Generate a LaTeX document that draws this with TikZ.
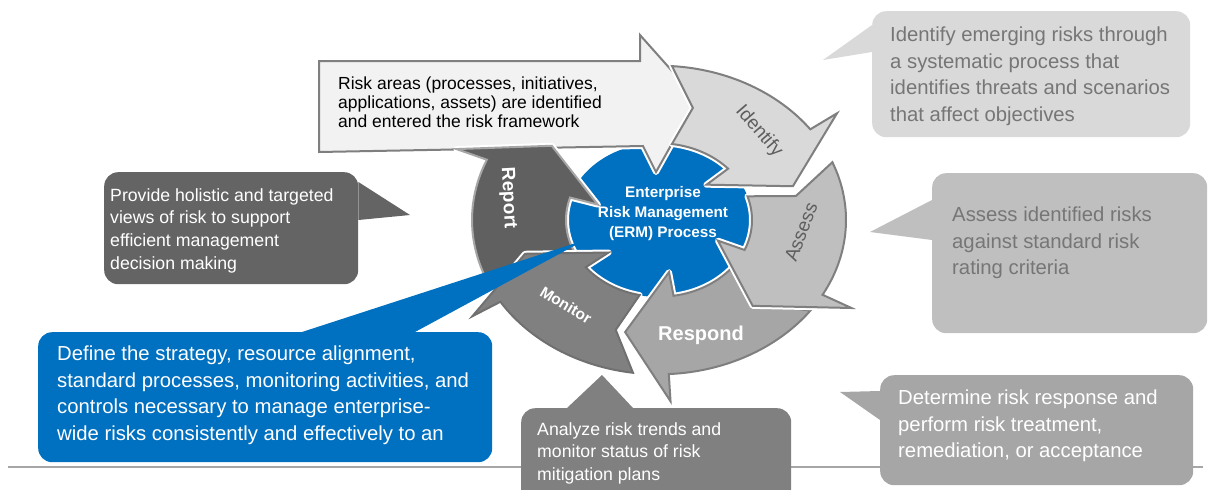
\documentclass[tikz,border=0pt]{standalone}
\usepackage{fontspec}
\setmainfont{Liberation Sans}
\usetikzlibrary{positioning}
\definecolor{ermblue}{HTML}{0070C0}
\definecolor{idgray}{HTML}{D9D9D9}
\definecolor{asgray}{HTML}{BFBFBF}
\definecolor{rsgray}{HTML}{A6A6A6}
\definecolor{mogray}{HTML}{808080}
\definecolor{rpgray}{HTML}{606060}
\definecolor{pvgray}{HTML}{646464}
\definecolor{edgegray}{HTML}{7F7F7F}
\definecolor{txtgray}{HTML}{767676}
\definecolor{entrygray}{HTML}{F2F2F2}
% one curved arrow of the cycle: tail, head base, tip, fill, edge
\newcommand\cyclearrow[5]{%
\pgfmathsetmacro\ta{#1-4}\pgfmathsetmacro\tn{#1-10}\pgfmathsetmacro\hb{#2+6}
\draw[fill=#4,draw=#5,line width=2pt,
  preaction={draw=white,line width=6pt,line join=round}]
  (#1:187) arc[start angle=#1,end angle=#2,radius=187] -- (#2:220) -- (#3:140)
  -- (\hb:64) -- (\hb:93) arc[start angle=\hb,end angle=\ta,radius=93]
  -- (\tn:140) -- cycle;}

\begin{document}
\begin{tikzpicture}[x=1pt,y=-1pt,every node/.style={inner sep=0pt},
  box/.style={anchor=north west,rounded corners=14pt},
  note/.style={align=left,font=\fontsize{20.3}{26.5}\selectfont},
  small note/.style={align=left,font=\fontsize{17.7}{22.7}\selectfont},
  step name/.style={font=\bfseries\fontsize{19}{22}\selectfont}]
\useasboundingbox (0,0) rectangle (1208,490);
\draw[rsgray,line width=1.5pt] (8,467) -- (1203,467);

% the cycle
\fill[ermblue] (659,220) ellipse[x radius=93,y radius=77];
\draw[fill=entrygray,draw=edgegray,line width=2pt,
  preaction={draw=white,line width=6pt,line join=round}]
  (319,61) -- (640,61) -- (640,35) -- (697,99) -- (656,172) -- (643,146)
  -- (319,152) -- cycle;
\node[small note,font=\fontsize{17.5}{19}\selectfont,anchor=north west] (entry) at (338,77)
  {Risk areas (processes, initiatives,\\applications, assets) are identified\\and entered the risk framework};
\begin{scope}[shift={(659,220)},yscale=-0.825]
\cyclearrow{214}{157}{140}{rpgray}{rsgray}
\cyclearrow{-98}{-148}{-163}{mogray}{rpgray!90}
\cyclearrow{-36}{-87}{-104}{rsgray}{edgegray}
\cyclearrow{22}{-29}{-48}{asgray}{edgegray}
\cyclearrow{86}{36}{17}{idgray}{edgegray}
\end{scope}
\node[font=\bfseries\fontsize{15.3}{20}\selectfont,align=center,text=white] (erm) at (663,214)
  {Enterprise\\Risk Management\\(ERM) Process};
\node[font=\fontsize{19}{22}\selectfont,text=txtgray!80!black,rotate=-49] (identify) at (759,131) {Identify};
\node[font=\fontsize{19}{22}\selectfont,text=txtgray!80!black,rotate=69] (assess) at (801,232) {Assess};
\node[step name,text=white,font=\bfseries\fontsize{20}{22}\selectfont] (respond) at (701,335) {Respond};
\node[step name,text=white,font=\bfseries\fontsize{15.5}{18}\selectfont,rotate=-31] (monitor) at (566,305) {Monitor};
\node[step name,text=white,rotate=-87] (report) at (508,198) {Report};

% notes around the cycle
\node[box,fill=ermblue,minimum width=454pt,minimum height=130pt] (dfbox) at (38,332) {};
\coordinate (dftip) at (585,240);
\fill[ermblue] ([xshift=264pt]dfbox.north west) -- (dftip) -- ([xshift=377pt]dfbox.north west) -- cycle;
\node[note,text=white,below right=14pt and 19pt of dfbox.north west] (dftext)
  {Define the strategy, resource alignment,\\standard processes, monitoring activities, and\\controls necessary to manage enterprise-\\wide risks consistently and effectively to an};

\node[box,fill=pvgray,minimum width=254pt,minimum height=112pt] (pvbox) at (104,172) {};
\coordinate (pvtip) at (410,215);
\fill[pvgray] ([yshift=-10pt]pvbox.north east) -- (pvtip) -- ([yshift=-48pt]pvbox.north east) -- cycle;
\node[small note,text=white,below right=16pt and 6pt of pvbox.north west] (pvtext)
  {Provide holistic and targeted\\views of risk to support\\efficient management\\decision making};

\node[box,fill=mogray,minimum width=270pt,minimum height=100pt] (anbox) at (521,408) {};
\coordinate (antip) at (602,375);
\fill[mogray] ([xshift=46pt]anbox.north west) -- (antip) -- ([xshift=112pt]anbox.north west) -- cycle;
\node[small note,text=white,below right=14pt and 16pt of anbox.north west] (antext)
  {Analyze risk trends and\\monitor status of risk\\mitigation plans};

\node[box,fill=idgray,minimum width=318pt,minimum height=126pt] (idbox) at (872,11) {};
\coordinate (idtip) at (823,60);
\fill[idgray] ([yshift=-14pt]idbox.north west) -- (idtip) -- ([yshift=-41pt]idbox.north west) -- cycle;
\node[note,text=txtgray,below right=16pt and 18pt of idbox.north west] (idtext)
  {Identify emerging risks through\\a systematic process that\\identifies threats and scenarios\\that affect objectives};

\node[box,fill=asgray,minimum width=275pt,minimum height=160pt] (asbox) at (932,173) {};
\coordinate (astip) at (870,232);
\fill[asgray] ([yshift=-27pt]asbox.north west) -- (astip) -- ([yshift=-67pt]asbox.north west) -- cycle;
\node[note,text=txtgray,below right=34pt and 20pt of asbox.north west] (astext)
  {Assess identified risks\\against standard risk\\rating criteria};

\node[box,fill=rsgray,minimum width=313pt,minimum height=110pt] (rsbox) at (880,375) {};
\coordinate (rstip) at (840,392);
\fill[rsgray] ([yshift=-16pt]rsbox.north west) -- (rstip) -- ([yshift=-45pt]rsbox.north west) -- cycle;
\node[note,text=white,below right=15pt and 18pt of rsbox.north west] (rstext)
  {Determine risk response and\\perform risk treatment,\\remediation, or acceptance};
\end{tikzpicture}
\end{document}
